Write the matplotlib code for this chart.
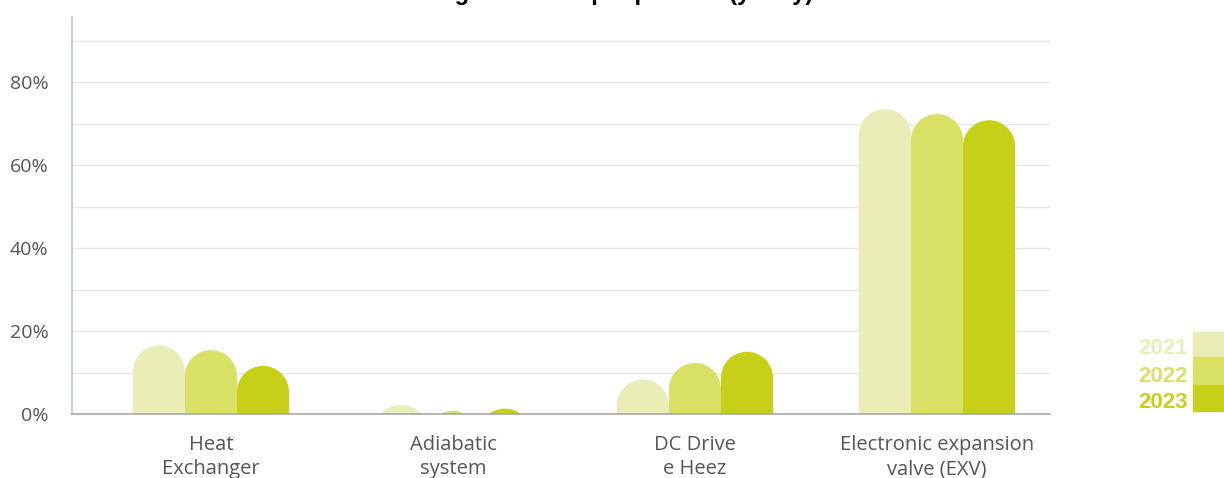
import matplotlib
matplotlib.use("Agg")
import matplotlib.pyplot as plt
from matplotlib.patches import Ellipse, Rectangle

# data
categories = ["Heat\nExchanger", "Adiabatic\nsystem", "DC Drive\ne Heez", "Electronic expansion\nvalve (EXV)"]
years = ["2021", "2022", "2023"]
values_2021 = [16.5, 2.2, 8.3, 73.5]
values_2022 = [15.4, 0.8, 12.3, 72.3]
values_2023 = [11.6, 1.3, 15.0, 70.8]
colors = ["#e9eeb6", "#d8e066", "#c6d018"]
title = "Usage increase per product (yearly)"

fig = plt.figure(figsize=(12.24, 4.78), dpi=100)
ax = fig.add_axes([72 / 1224, 64 / 478, 978 / 1224, 397 / 478])

xlim = (-0.574, 3.467)
ylim = (0, 95.7)
ax.set_xlim(*xlim)
ax.set_ylim(*ylim)

# grid every 10%, labels every 20%
for g in range(10, 100, 10):
    ax.axhline(g, color="#e4e6e9", lw=1.0, zorder=0)

w = 0.215
# radius of the round cap, converted to y data units
ax_w_px = 978
ax_h_px = 397
r_px = w * ax_w_px / (xlim[1] - xlim[0]) / 2
ry = r_px * (ylim[1] - ylim[0]) / ax_h_px

series = [values_2021, values_2022, values_2023]
for k, vals in enumerate(series):
    xs = [i + (k - 1) * w for i in range(len(categories))]
    bodies = [max(v - ry, 0) for v in vals]
    ax.bar(xs, bodies, width=w, color=colors[k], zorder=2, linewidth=0)
    for x, v in zip(xs, vals):
        ax.add_patch(Ellipse((x, v - ry), w, 2 * ry, color=colors[k], zorder=2, lw=0))

ax.set_yticks([0, 20, 40, 60, 80])
ax.set_yticklabels(["0%", "20%", "40%", "60%", "80%"])
ax.set_xticks(range(len(categories)))
ax.set_xticklabels(categories, linespacing=1.3)
ax.tick_params(axis="both", length=0, colors="#555555")
ax.tick_params(axis="y", pad=17, labelsize=14)
ax.tick_params(axis="x", pad=15, labelsize=14.5)
for lbl in ax.get_xticklabels() + ax.get_yticklabels():
    lbl.set_family(["Open Sans", "DejaVu Sans"])

for s in ["top", "right"]:
    ax.spines[s].set_visible(False)
ax.spines["left"].set_color("#bcc6d2")
ax.spines["left"].set_linewidth(1.2)
ax.spines["bottom"].set_color("#a8a8a8")
ax.spines["bottom"].set_linewidth(1.2)

# title sits mostly above the canvas, as in the reference
fig.text(0.5, 1.0, title, ha="center", va="baseline", fontsize=17,
         fontweight="bold", family=["Liberation Sans", "DejaVu Sans"])

# legend: coloured labels with stacked swatches on the right
sw_top = [332, 357, 385]
sw_bot = [357, 385, 411]
for k, yr in enumerate(years):
    y0 = 1 - sw_bot[k] / 478
    hgt = (sw_bot[k] - sw_top[k]) / 478
    fig.patches.append(Rectangle((1193 / 1224, y0), 40 / 1224, hgt, color=colors[k],
                                 transform=fig.transFigure, figure=fig))
    fig.text(1188 / 1224, y0 + 3 / 478, yr, ha="right", va="baseline", fontsize=16,
             fontweight="bold", color=colors[k],
             family=["Liberation Sans", "DejaVu Sans"])

fig.savefig("out.png", dpi=100)
